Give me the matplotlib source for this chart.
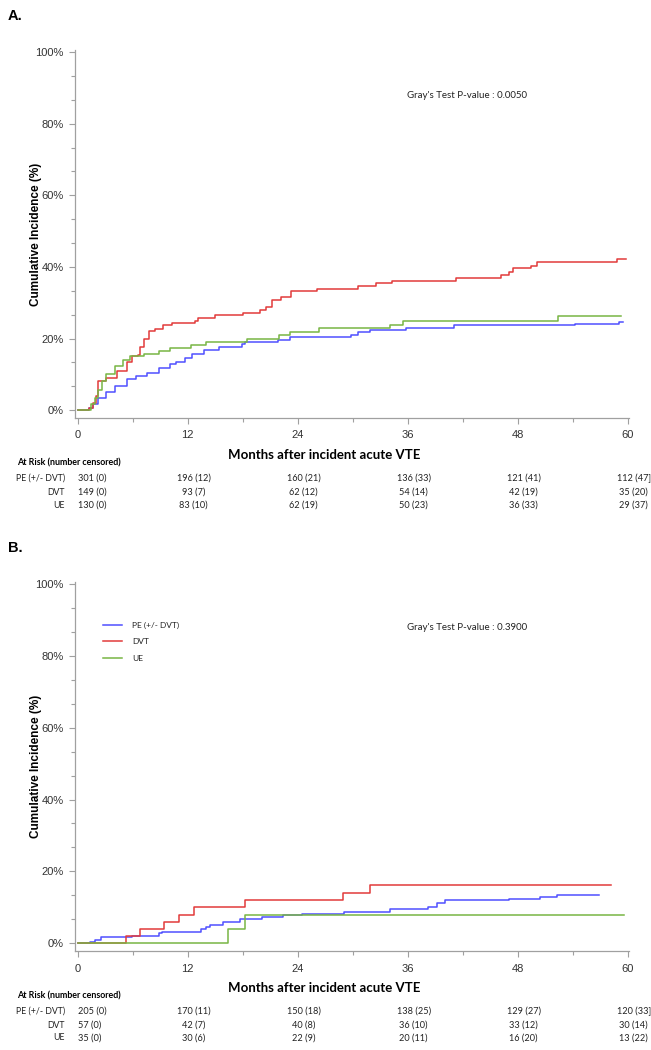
import numpy as np
import matplotlib
matplotlib.use('Agg')
import matplotlib.pyplot as plt
import matplotlib.transforms as mtransforms
from matplotlib.ticker import MultipleLocator, FuncFormatter

W, H = 651, 1050

# ---- data (months, cumulative incidence %) ----
groups = ['PE (+/- DVT)', 'DVT', 'UE']
colors = ['#5050ff', '#e23a3a', '#78b544']

# panel A
a_pe_t = [0, 1.23, 1.64, 2.26, 3.08, 4.11, 5.34, 6.37, 7.6, 8.84, 10.07, 10.7, 11.7, 12.5,
          13.8, 15.4, 17.9, 18.3, 21.8, 23.2, 29.8, 30.6, 31.9, 35.8, 41.1, 54.3, 59.0, 59.5]
a_pe_y = [0, 0.6, 1.6, 3.4, 5.0, 6.6, 8.7, 9.4, 10.3, 11.7, 12.9, 13.5, 14.6, 15.7,
          16.8, 17.7, 18.6, 19.1, 19.7, 20.5, 21.1, 21.8, 22.5, 23.0, 23.7, 24.1, 24.6, 24.6]
a_dvt_t = [0, 1.23, 1.7, 2.0, 2.26, 3.08, 4.32, 5.34, 5.96, 6.6, 6.78, 7.19, 7.81, 8.42, 9.25,
           10.27, 12.74, 13.15, 15.0, 18.08, 19.93, 20.55, 21.16, 22.19, 23.22, 26.1, 30.6,
           32.5, 34.3, 41.3, 46.2, 47.05, 47.5, 49.5, 50.1, 58.8, 59.8]
a_dvt_y = [0, 0.5, 2.0, 4.0, 8.0, 9.0, 10.8, 13.5, 15.0, 15.4, 17.7, 20.0, 22.0, 22.8, 23.7,
           24.3, 25.0, 25.8, 26.5, 27.1, 28.0, 28.8, 30.8, 31.5, 33.2, 33.7, 34.7,
           35.4, 36.1, 36.9, 37.8, 38.7, 39.6, 40.3, 41.4, 42.1, 42.1]
a_ue_t = [0, 1.3, 1.44, 1.85, 2.26, 2.67, 3.08, 4.11, 4.93, 5.75, 7.19, 8.84, 10.07, 12.33,
          13.97, 18.5, 22.0, 23.2, 26.3, 34.1, 35.5, 52.4, 59.3]
a_ue_y = [0, 0, 1.6, 3.4, 5.7, 8.0, 10.0, 12.4, 14.0, 15.0, 15.7, 16.6, 17.4, 18.3,
          19.1, 20.0, 20.9, 21.8, 23.0, 23.9, 24.9, 26.3, 26.3]

# panel B
b_pe_t = [0, 1.36, 1.93, 2.55, 5.96, 8.84, 9.17, 13.4, 14.0, 14.4, 15.8, 17.7, 20.1, 22.4,
          24.5, 29.0, 34.1, 38.2, 39.2, 40.1, 47.1, 50.4, 52.3, 56.9]
b_pe_y = [0, 0.3, 0.9, 1.6, 2.0, 2.8, 3.2, 3.9, 4.5, 5.1, 5.9, 6.6, 7.2, 7.7,
          8.2, 8.8, 9.5, 10.0, 11.1, 11.9, 12.4, 12.8, 13.5, 13.5]
b_dvt_t = [0, 5.3, 6.78, 9.45, 11.0, 12.7, 18.2, 28.9, 31.9, 58.2]
b_dvt_y = [0, 1.86, 3.9, 5.9, 7.9, 10.0, 12.0, 14.0, 16.2, 16.2]
b_ue_t = [0, 16.4, 18.2, 59.6]
b_ue_y = [0, 3.9, 7.8, 7.8]

risk_times = [0, 12, 24, 36, 48, 60]
a_risk = [['301 (0)', '196 (12)', '160 (21)', '136 (33)', '121 (41)', '112 (47]'],
          ['149 (0)', '93 (7)', '62 (12)', '54 (14)', '42 (19)', '35 (20)'],
          ['130 (0)', '83 (10)', '62 (19)', '50 (23)', '36 (33)', '29 (37)']]
b_risk = [['205 (0)', '170 (11)', '150 (18)', '138 (25)', '129 (27)', '120 (33]'],
          ['57 (0)', '42 (7)', '40 (8)', '36 (10)', '33 (12)', '30 (14)'],
          ['35 (0)', '30 (6)', '22 (9)', '20 (11)', '16 (20)', '13 (22)']]

a_pvalue = "Gray's Test P-value : 0.0050"
b_pvalue = "Gray's Test P-value : 0.3900"

CAL = ['Lato', 'DejaVu Sans']
ARI = ['Liberation Sans', 'DejaVu Sans']


def fx(px):
    return px / W


def fy(py):
    return 1 - py / H


fig = plt.figure(figsize=(W / 100, H / 100), dpi=100)


def draw_panel(top_px, zero_px, curves, risk, pvalue, letter, legend=False):
    bottom_px = zero_px + 8
    ax_w = 629.5 - 75
    ax = fig.add_axes([fx(75), fy(bottom_px), ax_w / W, (bottom_px - top_px) / H])
    lines = []
    for (t, y), c, g in zip(curves, colors, groups):
        ln, = ax.step(t, y, where='post', color=c, lw=1.1, label=g)
        lines.append(ln)
    ax.set_xlim(-0.3, 60.2)
    ax.set_ylim(-2.2, 100.6)
    for s in ['top', 'right']:
        ax.spines[s].set_visible(False)
    for s in ['left', 'bottom']:
        ax.spines[s].set_color('#a0a0a0')
        ax.spines[s].set_linewidth(0.9)
    ax.xaxis.set_major_locator(MultipleLocator(12))
    ax.xaxis.set_minor_locator(MultipleLocator(6))
    ax.yaxis.set_major_locator(MultipleLocator(20))
    ax.yaxis.set_minor_locator(MultipleLocator(20 / 3))
    ax.yaxis.set_major_formatter(FuncFormatter(lambda v, p: '%d%%' % round(v)))
    ax.tick_params(which='major', length=4, width=0.8, color='#a0a0a0',
                   labelsize=8, labelcolor='#333333', pad=4)
    ax.tick_params(axis='x', which='major', pad=5)
    ax.tick_params(which='minor', length=3, width=0.8, color='#a0a0a0')
    for lab in ax.get_xticklabels() + ax.get_yticklabels():
        lab.set_family(ARI)
    ax.set_ylabel('Cumulative Incidence (%)', family=ARI, fontweight='bold', fontsize=8.5)
    ax.yaxis.set_label_coords(-(75 - 42) / ax_w, 0.5)

    fig.text(fx(8), fy(top_px - 34), letter, family=ARI, fontweight='bold',
             fontsize=10.5, va='center', ha='left')
    fig.text(fx(407), fy(top_px + 45), pvalue, family=CAL, fontsize=7,
             va='center', ha='left', color='#222222')

    fig.text(fx(324), fy(zero_px + 45), 'Months after incident acute VTE', family=CAL,
             fontweight='bold', fontsize=9.5, ha='center', va='center')
    fig.text(fx(17), fy(zero_px + 53), 'At Risk (number censored)', family=CAL,
             fontweight='bold', fontsize=6.4, ha='left', va='center')
    tr = mtransforms.blended_transform_factory(ax.transData, fig.transFigure)
    tr_c = mtransforms.offset_copy(tr, fig=fig, x=6, y=0, units='dots')
    row_y = [68, 82, 95]
    for g, row, dy in zip(groups, risk, row_y):
        fig.text(fx(65), fy(zero_px + dy), g, family=CAL, fontsize=6.3,
                 ha='right', va='center', color='#222222')
        for i, (tm, val) in enumerate(zip(risk_times, row)):
            if i == 0:
                ax.text(tm, fy(zero_px + dy), val, transform=tr, family=CAL, fontsize=6.6,
                        ha='left', va='center', color='#222222', clip_on=False)
            else:
                ax.text(tm, fy(zero_px + dy), val, transform=tr_c, family=CAL, fontsize=6.6,
                        ha='center', va='center', color='#222222', clip_on=False)

    if legend:
        leg = ax.legend(handles=lines, loc='upper left', frameon=False,
                        bbox_to_anchor=(fx(103), fy(top_px + 40)), bbox_transform=fig.transFigure,
                        prop={'family': CAL, 'size': 6}, handlelength=2.3,
                        handletextpad=1.2, labelspacing=1.1, borderpad=0, borderaxespad=0)
        for t in leg.get_texts():
            t.set_color('#222222')
    return ax


draw_panel(50, 410,
           [(a_pe_t, a_pe_y), (a_dvt_t, a_dvt_y), (a_ue_t, a_ue_y)],
           a_risk, a_pvalue, 'A.')
draw_panel(582, 943,
           [(b_pe_t, b_pe_y), (b_dvt_t, b_dvt_y), (b_ue_t, b_ue_y)],
           b_risk, b_pvalue, 'B.', legend=True)

fig.savefig('out.png', dpi=100)
